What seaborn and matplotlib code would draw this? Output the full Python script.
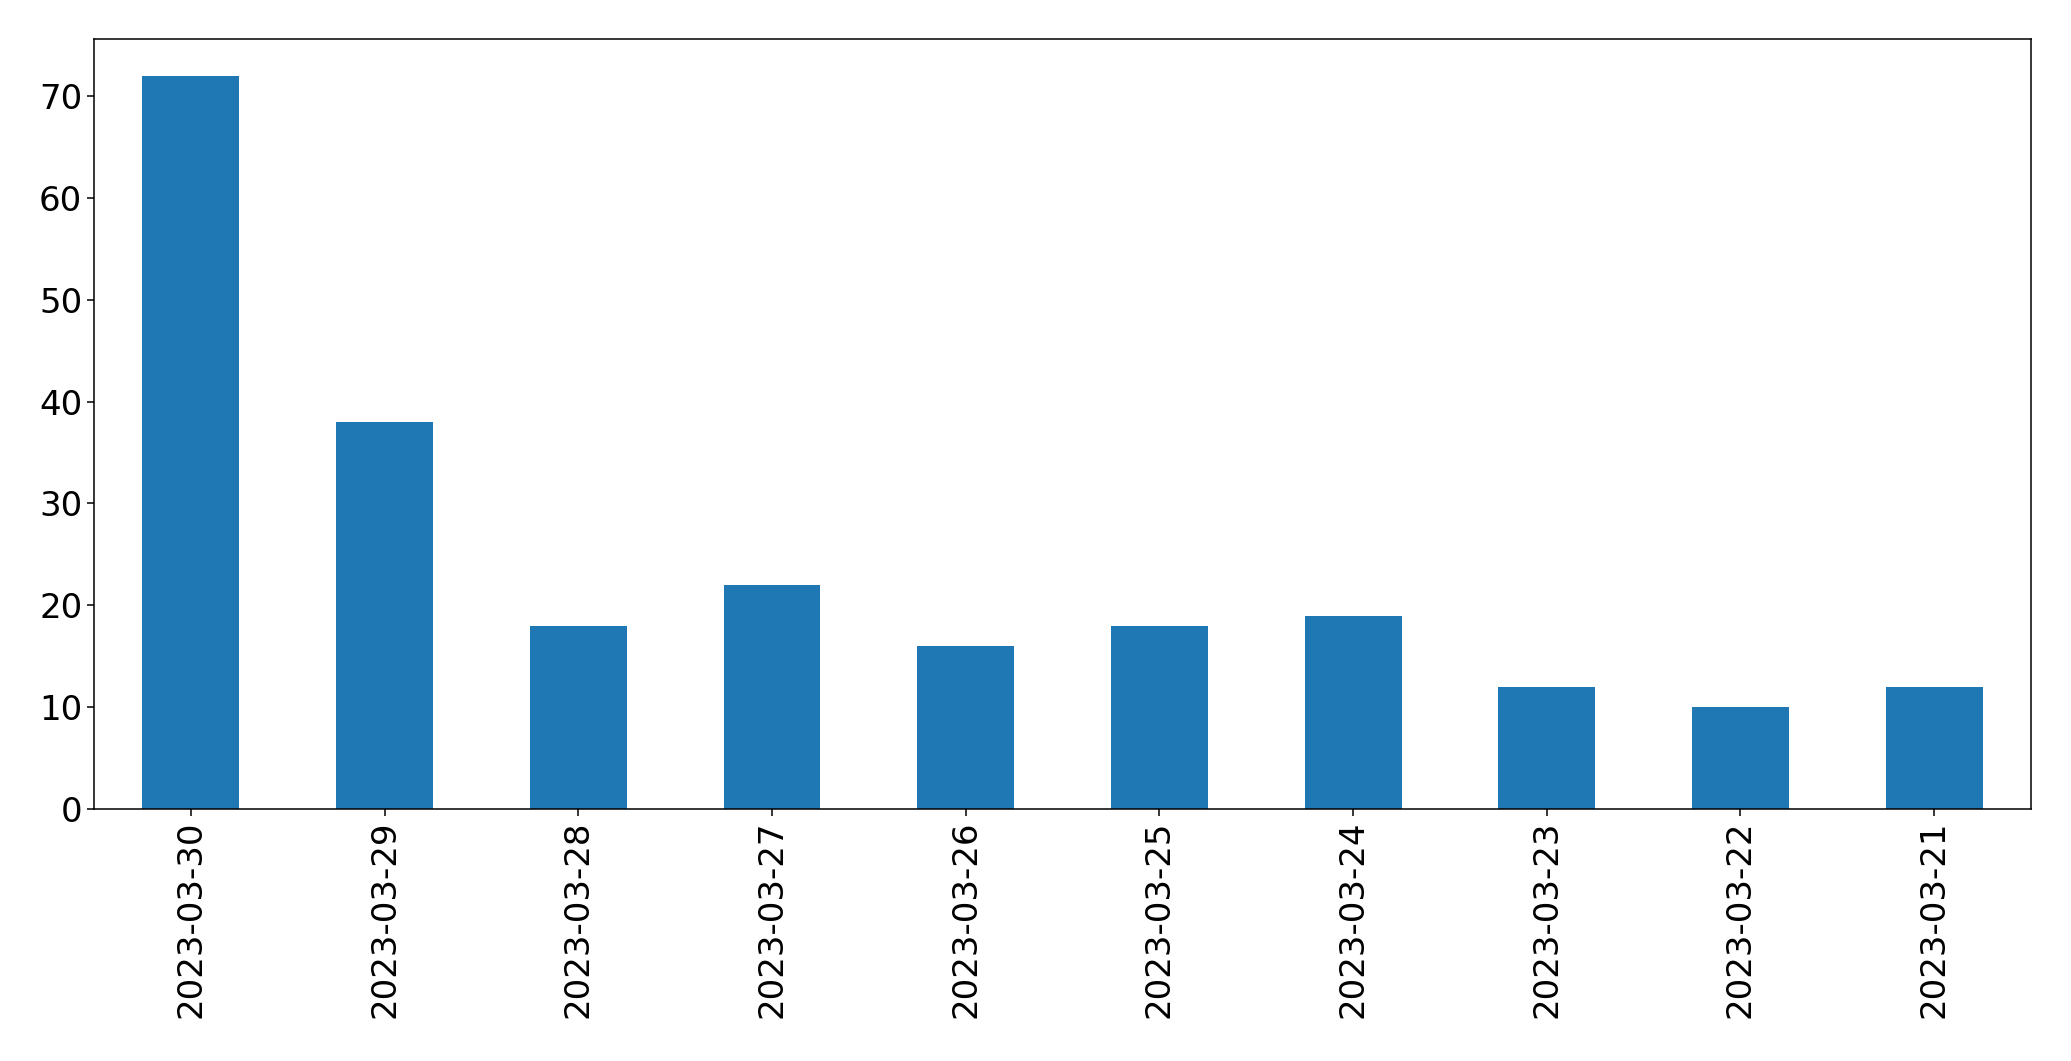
import matplotlib
matplotlib.use("Agg")
import matplotlib.pyplot as plt
import seaborn as sns
import pandas as pd

dates = ["2023-03-30", "2023-03-29", "2023-03-28", "2023-03-27", "2023-03-26",
         "2023-03-25", "2023-03-24", "2023-03-23", "2023-03-22", "2023-03-21"]
counts = [72, 38, 18, 22, 16, 18, 19, 12, 10, 12]

df = pd.DataFrame({"date": dates, "count": counts})

sns.set_style("white")
plt.rcParams['font.family'] = ['DejaVu Sans']
plt.rcParams['text.color'] = 'black'
plt.rcParams['xtick.color'] = 'black'
plt.rcParams['ytick.color'] = 'black'
plt.rcParams['xtick.labelcolor'] = 'black'
plt.rcParams['ytick.labelcolor'] = 'black'
plt.rcParams['axes.edgecolor'] = 'black'

fig, ax = plt.subplots(figsize=(20.71, 10.61), dpi=100)
fig.subplots_adjust(left=0.0454, right=0.9807, top=0.9632, bottom=0.2375)

sns.barplot(data=df, x="date", y="count", order=dates, color="#1f77b4",
            saturation=1, width=0.5, linewidth=0, ax=ax)

ax.set_xlim(-0.5, len(dates) - 0.5)
ax.set_ylim(0, max(counts) * 1.05)
ax.set_xlabel("")
ax.set_ylabel("")
ax.tick_params(axis="both", which="major", labelsize=24.5, length=4.9, width=1.1,
               direction="out", bottom=True, left=True, color="black",
               labelcolor="black")
plt.setp(ax.get_xticklabels(), rotation=90)
for s in ax.spines.values():
    s.set_visible(True)
    s.set_color("black")
    s.set_linewidth(1.1)

fig.savefig("out.png", dpi=100)
